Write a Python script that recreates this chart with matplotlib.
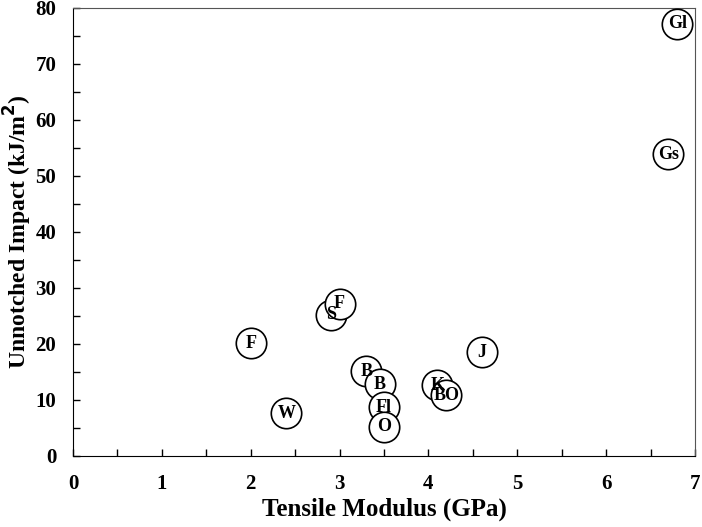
import matplotlib
matplotlib.use("Agg")
import matplotlib.pyplot as plt
from matplotlib.ticker import MultipleLocator

labels = ["F", "W", "S", "F", "B", "B", "Fl", "O", "K", "BO", "J", "Gs", "Gl"]
modulus = [2.0, 2.4, 2.9, 3.0, 3.3, 3.45, 3.5, 3.5, 4.1, 4.2, 4.6, 6.7, 6.8]
impact = [20.1, 7.6, 25.2, 27.2, 15.1, 12.8, 8.7, 5.2, 12.6, 10.8, 18.5, 53.9, 77.2]

plt.rcParams["font.family"] = ["Liberation Serif", "DejaVu Serif"]
plt.rcParams["font.weight"] = "bold"

fig = plt.figure(figsize=(7.02, 5.27), dpi=100)
ax = fig.add_axes([0.104, 0.135, 0.886, 0.850])

ax.scatter(modulus, impact, s=480, facecolors="white", edgecolors="black",
           linewidths=1.2, zorder=3)
for name, xv, yv in zip(labels, modulus, impact):
    ax.text(xv, yv, name, ha="center", va="center", fontsize=13,
            fontweight="bold", zorder=4)

ax.set_xlim(0, 7)
ax.set_ylim(0, 80)
ax.xaxis.set_major_locator(MultipleLocator(1))
ax.xaxis.set_minor_locator(MultipleLocator(0.5))
ax.yaxis.set_major_locator(MultipleLocator(10))
ax.yaxis.set_minor_locator(MultipleLocator(5))
ax.tick_params(which="both", direction="in", length=5, width=1)
ax.tick_params(axis="x", which="major", pad=13)
ax.tick_params(axis="y", which="major", pad=12)
ax.tick_params(labelsize=15)
for lab in ax.get_xticklabels() + ax.get_yticklabels():
    lab.set_fontweight("bold")

for side in ["top", "right"]:
    ax.spines[side].set_color("#555555")

ax.set_xlabel("Tensile Modulus (GPa)", fontsize=18, fontweight="bold", labelpad=3)
ax.set_ylabel("Unnotched Impact (kJ/m$^\\mathbf{2}$)", fontsize=17,
              fontweight="bold")
ax.yaxis.set_label_coords(-0.062, 0.5)

fig.savefig("out.png", dpi=100)
